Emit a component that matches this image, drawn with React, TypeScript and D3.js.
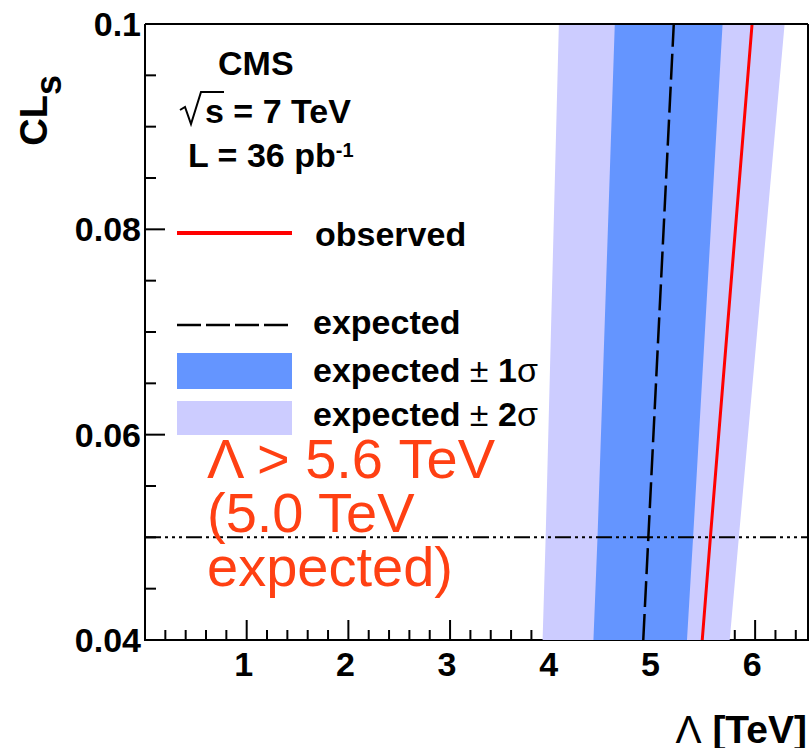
import React from 'react'
import * as d3 from 'd3'

// CLs scan points and the Lambda [TeV] value of each curve at those points
const clsGrid = [0.04, 0.05, 0.1]
const observed = [5.48, 5.56, 5.97]
const expected = [4.9, 4.95, 5.2]
const minus2 = [3.91, 3.94, 4.07]
const minus1 = [4.41, 4.45, 4.62]
const plus1 = [5.33, 5.39, 5.68]
const plus2 = [5.75, 5.84, 6.29]

const clsLimit = 0.05
const xTicks = [1, 2, 3, 4, 5, 6]
const yTicks = [0.04, 0.06, 0.08, 0.1]
const yTickLabels = ['0.04', '0.06', '0.08', '0.1']

const W = 810
const H = 748
const left = 145
const right = 808
const top = 24
const bottom = 640

const font = '"Liberation Sans", Arial, Helvetica, sans-serif'
const darkBand = '#6495ff'
const lightBand = '#ccccff'

export default function App() {
  const x = d3.scaleLinear().domain([0, 6.52]).range([left, right])
  const y = d3.scaleLinear().domain([0.04, 0.1]).range([bottom, top])

  const xMinor = d3.range(1, 33).map((i) => +(i * 0.2).toFixed(2)).filter((v) => v < 6.52)
  const yMinor = d3.range(1, 12).map((i) => +(0.04 + i * 0.005).toFixed(3))

  const band = (lo: number[], hi: number[]) =>
    d3
      .area<number>()
      .y((d) => y(d))
      .x0((d, i) => x(lo[i]))
      .x1((d, i) => x(hi[i]))(clsGrid) || ''

  const curve = (vals: number[]) =>
    d3
      .line<number>()
      .x((d, i) => x(vals[i]))
      .y((d) => y(d))(clsGrid) || ''

  return (
    <svg
      width={W}
      height={H}
      style={{ position: 'absolute', left: 0, top: 0, background: '#fff' }}
      fontFamily={font}
    >
      {/* left + bottom axes with ticks */}
      <g stroke="#000" strokeWidth={2}>
        <line x1={left} x2={left} y1={top} y2={bottom + 1} />
        <line x1={left} x2={right} y1={bottom} y2={bottom} />
        {yMinor.map((v) => (
          <line key={'ym' + v} x1={left} x2={left + (yTicks.includes(v) ? 20 : 11)} y1={y(v)} y2={y(v)} />
        ))}
        {xMinor.map((v) => (
          <line key={'xm' + v} x1={x(v)} x2={x(v)} y1={bottom} y2={bottom - (Number.isInteger(v) ? 20 : 10)} />
        ))}
      </g>

      {/* bands */}
      <path d={band(minus2, plus2)} fill={lightBand} />
      <path d={band(minus1, plus1)} fill={darkBand} />

      {/* CLs = 0.05 line */}
      <line
        x1={left}
        x2={right}
        y1={y(clsLimit)}
        y2={y(clsLimit)}
        stroke="#000"
        strokeWidth={2}
        strokeDasharray="16,4,3,4,3,4,3,4"
      />

      <path d={curve(expected)} fill="none" stroke="#000" strokeWidth={2.5} strokeDasharray="26,7" />
      <path d={curve(observed)} fill="none" stroke="#ff0000" strokeWidth={3} />

      {/* top + right frame */}
      <g stroke="#000" strokeWidth={2}>
        <line x1={left} x2={right} y1={top} y2={top} />
        <line x1={right} x2={right} y1={top} y2={bottom + 1} />
      </g>

      {/* tick labels */}
      <g fontWeight="bold" fontSize={34} fill="#000">
        {yTicks.map((v, i) => (
          <text key={'yl' + v} x={left - 4} y={y(v) + 12} textAnchor="end">
            {yTickLabels[i]}
          </text>
        ))}
        {xTicks.map((v) => (
          <text key={'xl' + v} x={x(v) - 3} y={676} textAnchor="middle">
            {v}
          </text>
        ))}
      </g>

      {/* axis titles */}
      <text transform="translate(47,75) rotate(-90)" textAnchor="end" fontWeight="bold" fontSize={38}>
        CL
        <tspan fontSize={36} dy={14}>
          s
        </tspan>
      </text>
      <text x={807} y={743} textAnchor="end" fontWeight="bold" fontSize={39}>
        <tspan fontWeight="normal">Λ</tspan> [TeV]
      </text>

      {/* CMS info */}
      <g fontWeight="bold" fontSize={34}>
        <text x={218} y={75}>CMS</text>
        <path d="M180,110 L185,107 L191,124 L201,92 L224,92" fill="none" stroke="#000" strokeWidth={2} />
        <text x={205} y={123}>s = 7 TeV</text>
        <text x={188} y={167}>
          L = 36 pb
          <tspan fontSize={20} dy={-10}>
            -1
          </tspan>
        </text>
      </g>

      {/* legend */}
      <line x1={177} x2={292} y1={233} y2={233} stroke="#ff0000" strokeWidth={4} />
      <line x1={177} x2={292} y1={325} y2={325} stroke="#000" strokeWidth={2.5} strokeDasharray="24,5" />
      <rect x={177} y={353} width={115} height={36} fill={darkBand} />
      <rect x={177} y={401} width={115} height={34} fill={lightBand} />
      <g fontWeight="bold" fontSize={34}>
        <text x={315} y={246}>observed</text>
        <text x={313} y={334}>expected</text>
        <text x={313} y={382}>
          expected <tspan fontWeight="normal">±</tspan> 1<tspan fontWeight="normal">σ</tspan>
        </text>
        <text x={313} y={426}>
          expected <tspan fontWeight="normal">±</tspan> 2<tspan fontWeight="normal">σ</tspan>
        </text>
      </g>

      {/* annotation */}
      <g fill="#ff4013" fontSize={56}>
        <text x={207} y={478}>Λ &gt; 5.6 TeV</text>
        <text x={207} y={532}>(5.0 TeV</text>
        <text x={207} y={586}>expected)</text>
      </g>
    </svg>
  )
}
